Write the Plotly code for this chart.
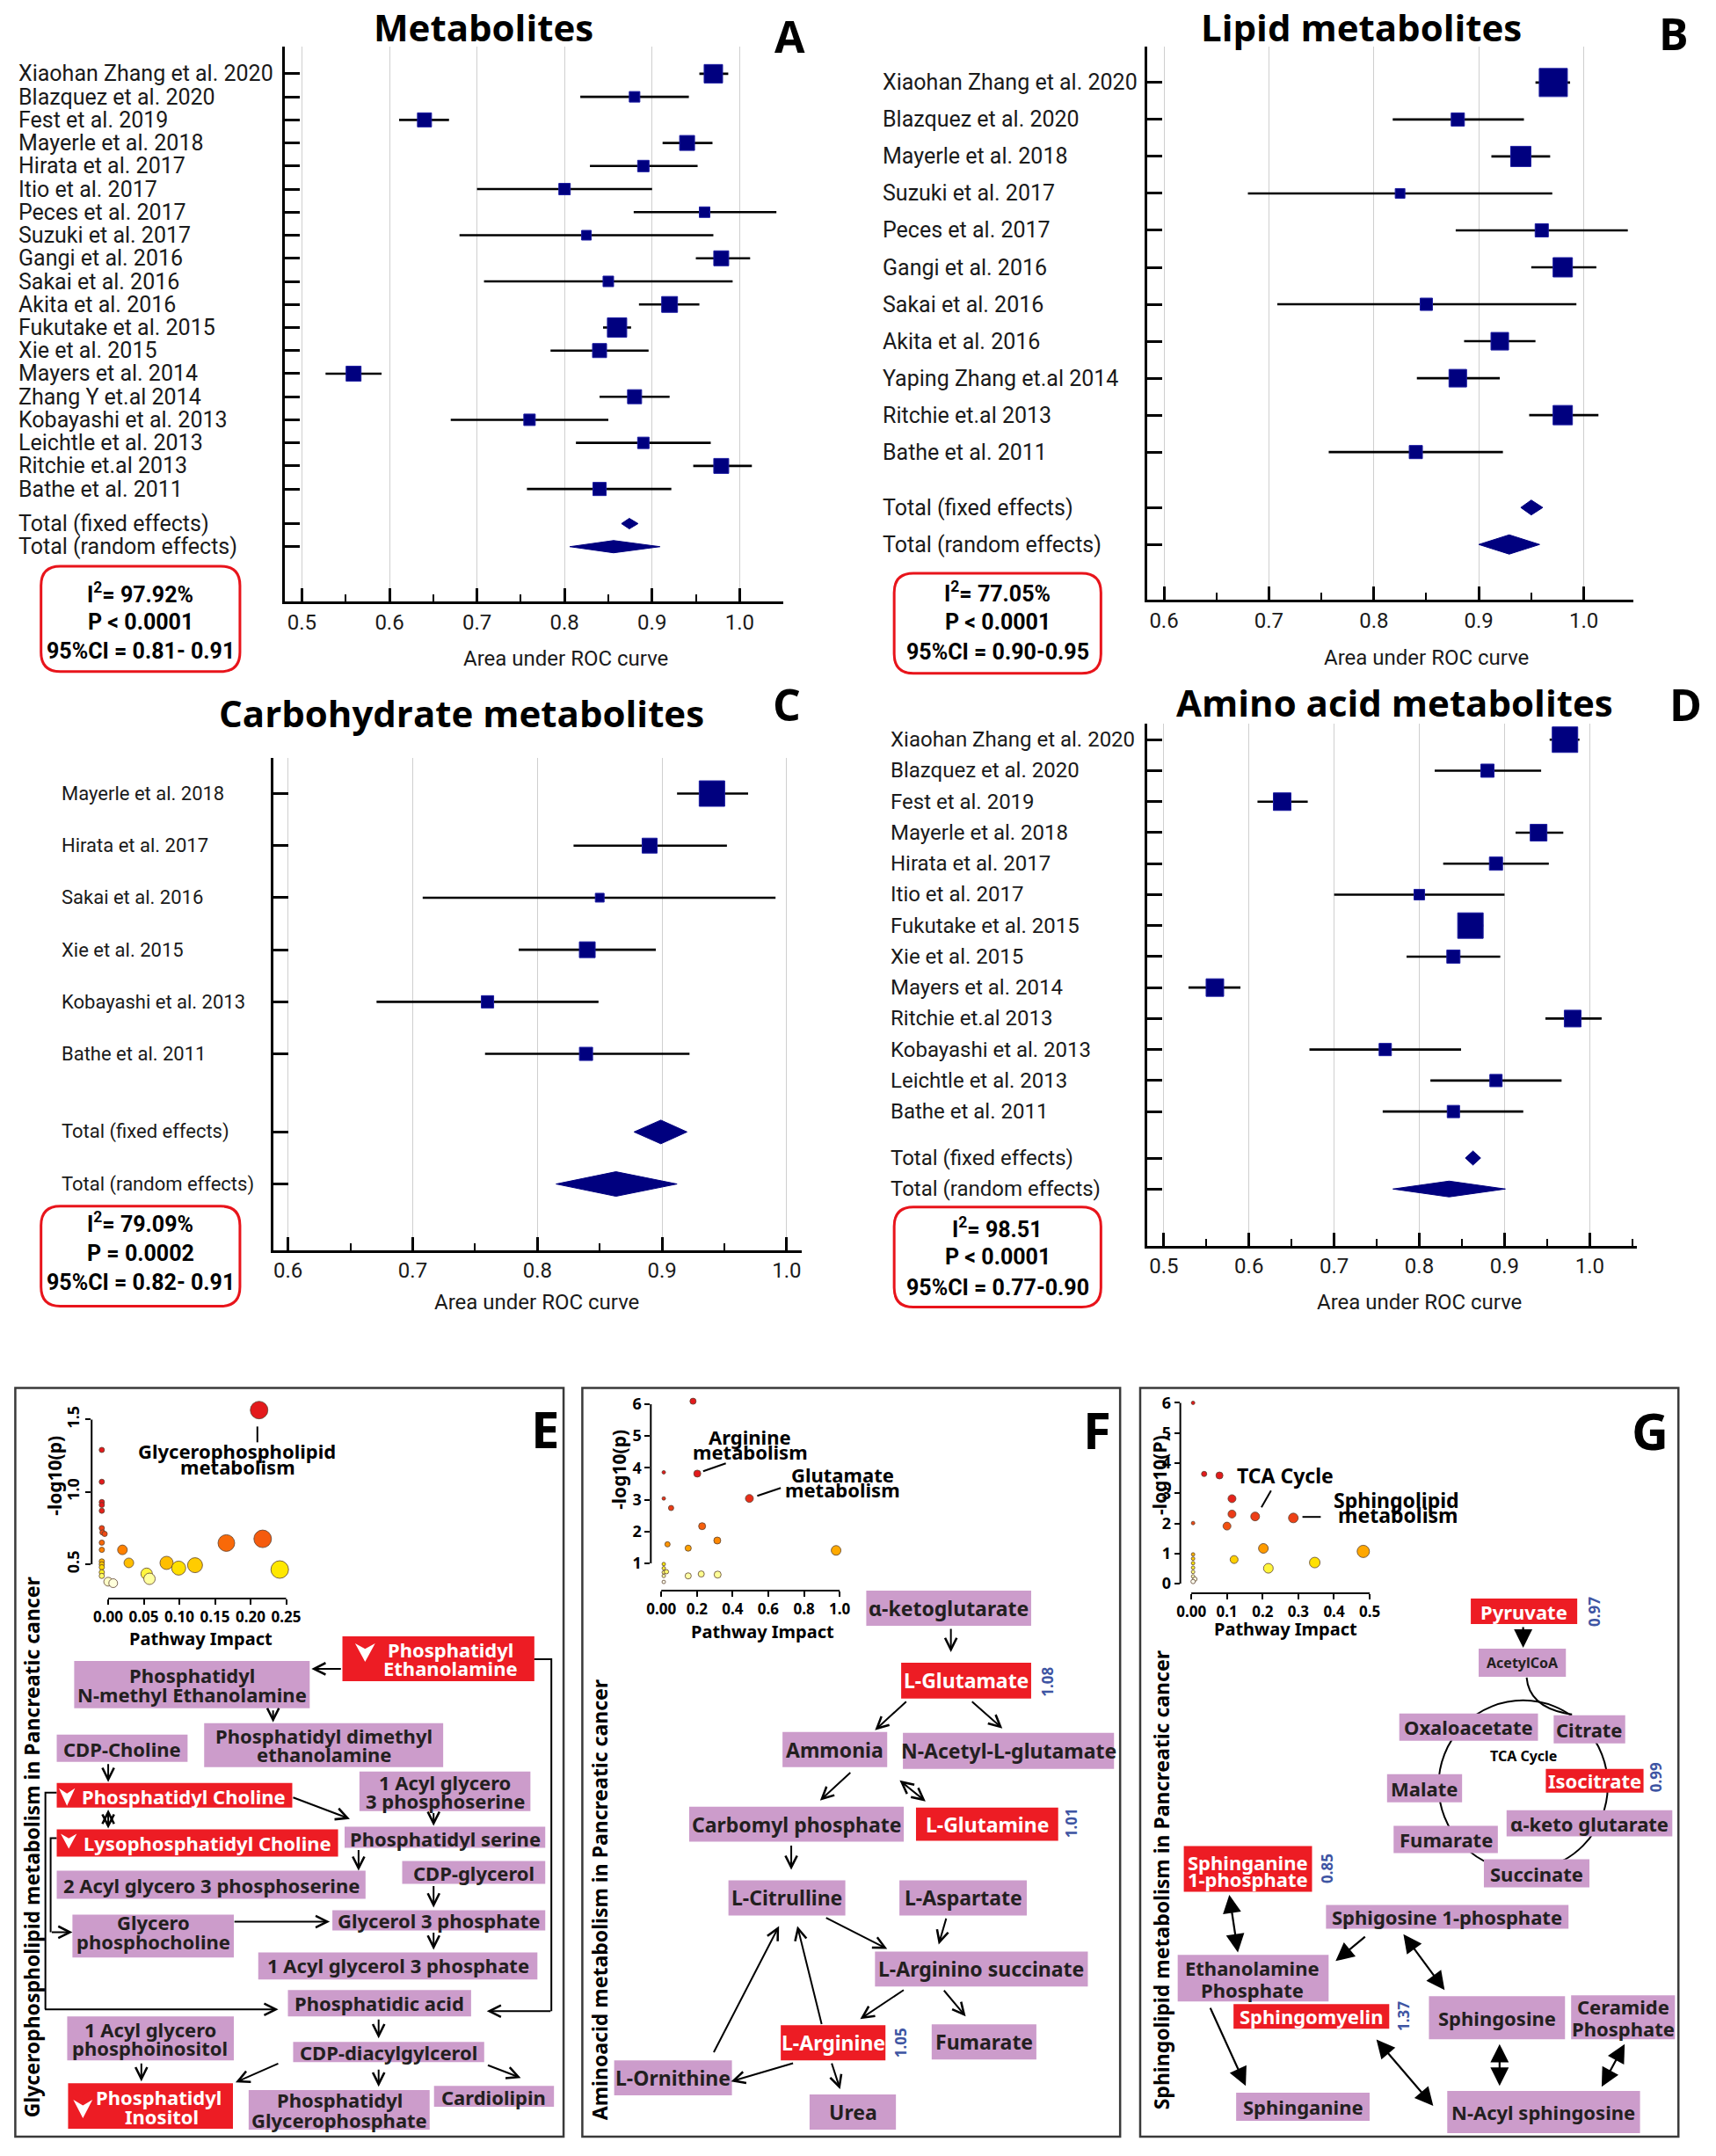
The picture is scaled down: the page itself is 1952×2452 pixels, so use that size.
import plotly.graph_objects as go

W, H = 1952, 2452


def fx(p):
    return p / W


def fy(p):
    return 1 - p / H


NARROW = "Roboto, Liberation Sans Narrow, sans-serif"
TITLEF = "Open Sans, Noto Sans, sans-serif"
DIAG = "Noto Sans, Open Sans, sans-serif"
NAVY = "#00007F"
PURPLE = "#CC9CCB"
RED = "#ED1C24"
DARK = "#231F20"
BLUE = "#3E55A3"

# ======================= DATA : forest plots =======================
A_TITLE = "Metabolites"
A_STUDIES = ["Xiaohan Zhang et al. 2020", "Blazquez et al. 2020", "Fest et al. 2019", "Mayerle et al. 2018",
             "Hirata et al. 2017", "Itio et al. 2017", "Peces et al. 2017", "Suzuki et al. 2017",
             "Gangi et al. 2016", "Sakai et al. 2016", "Akita et al. 2016", "Fukutake et al. 2015",
             "Xie et al. 2015", "Mayers et al. 2014", "Zhang Y et.al 2014", "Kobayashi et al. 2013",
             "Leichtle et al. 2013", "Ritchie et.al 2013", "Bathe et al. 2011"]
A_AUC = [0.970, 0.880, 0.640, 0.940, 0.890, 0.800, 0.960, 0.825, 0.979, 0.850, 0.920, 0.860, 0.840,
         0.559, 0.880, 0.760, 0.890, 0.979, 0.840]
A_LO = [0.954, 0.818, 0.611, 0.912, 0.829, 0.700, 0.879, 0.680, 0.950, 0.708, 0.885, 0.844, 0.784,
        0.527, 0.840, 0.670, 0.813, 0.947, 0.757]
A_HI = [0.987, 0.942, 0.668, 0.969, 0.952, 0.900, 1.042, 0.970, 1.012, 0.992, 0.954, 0.876, 0.896,
        0.591, 0.920, 0.850, 0.967, 1.014, 0.922]
A_WEIGHT = [21, 12, 16, 17, 13, 13, 12, 11, 17, 12, 18, 22, 16, 17, 16, 13, 13, 17, 15]
A_FIXED = [0.874, 0.865, 0.884]
A_RANDOM = [0.856, 0.806, 0.909]
A_STATS = ["I<sup>2</sup>= 97.92%", "P < 0.0001", "95%CI = 0.81- 0.91"]

B_TITLE = "Lipid metabolites"
B_STUDIES = ["Xiaohan Zhang et al. 2020", "Blazquez et al. 2020", "Mayerle et al. 2018", "Suzuki et al. 2017",
             "Peces et al. 2017", "Gangi et al. 2016", "Sakai et al. 2016", "Akita et al. 2016",
             "Yaping Zhang et.al 2014", "Ritchie et.al 2013", "Bathe et al. 2011"]
B_AUC = [0.971, 0.880, 0.940, 0.825, 0.960, 0.980, 0.850, 0.920, 0.880, 0.980, 0.840]
B_LO = [0.954, 0.818, 0.912, 0.680, 0.878, 0.950, 0.708, 0.886, 0.841, 0.948, 0.757]
B_HI = [0.987, 0.943, 0.968, 0.970, 1.042, 1.012, 0.993, 0.954, 0.920, 1.014, 0.923]
B_WEIGHT = [32, 15, 23, 11, 15, 22, 14, 20, 20, 22, 15]
B_FIXED = [0.950, 0.940, 0.961]
B_RANDOM = [0.929, 0.900, 0.958]
B_STATS = ["I<sup>2</sup>= 77.05%", "P < 0.0001", "95%CI = 0.90-0.95"]

C_TITLE = "Carbohydrate metabolites"
C_STUDIES = ["Mayerle et al. 2018", "Hirata et al. 2017", "Sakai et al. 2016", "Xie et al. 2015",
             "Kobayashi et al. 2013", "Bathe et al. 2011"]
C_AUC = [0.940, 0.890, 0.850, 0.840, 0.760, 0.839]
C_LO = [0.912, 0.829, 0.708, 0.785, 0.671, 0.758]
C_HI = [0.969, 0.952, 0.991, 0.895, 0.849, 0.922]
C_WEIGHT = [29, 17, 10, 18, 14, 15]
C_FIXED = [0.899, 0.8775, 0.920]
C_RANDOM = [0.863, 0.815, 0.912]
C_STATS = ["I<sup>2</sup>= 79.09%", "P = 0.0002", "95%CI = 0.82- 0.91"]

D_TITLE = "Amino acid metabolites"
D_STUDIES = ["Xiaohan Zhang et al. 2020", "Blazquez et al. 2020", "Fest et al. 2019", "Mayerle et al. 2018",
             "Hirata et al. 2017", "Itio et al. 2017", "Fukutake et al. 2015", "Xie et al. 2015",
             "Mayers et al. 2014", "Ritchie et.al 2013", "Kobayashi et al. 2013", "Leichtle et al. 2013",
             "Bathe et al. 2011"]
D_AUC = [0.971, 0.880, 0.639, 0.940, 0.890, 0.800, 0.860, 0.840, 0.560, 0.980, 0.760, 0.890, 0.840]
D_LO = [0.953, 0.818, 0.610, 0.913, 0.828, 0.700, 0.846, 0.785, 0.529, 0.948, 0.671, 0.813, 0.757]
D_HI = [0.988, 0.943, 0.669, 0.969, 0.952, 0.900, 0.875, 0.895, 0.590, 1.014, 0.849, 0.967, 0.922]
D_WEIGHT = [29, 15, 20, 19, 15, 12, 29, 15, 20, 19, 14, 14, 14]
D_FIXED = [0.863, 0.854, 0.872]
D_RANDOM = [0.835, 0.769, 0.901]
D_STATS = ["I<sup>2</sup>= 98.51", "P < 0.0001", "95%CI = 0.77-0.90"]

TOTAL_LABELS = ["Total (fixed effects)", "Total (random effects)"]
X_TITLE = "Area under ROC curve"

# ======================= DATA : pathway impact insets =======================
E_IMPACT = [0.212, -0.009, -0.009, -0.009, -0.009, -0.009, -0.009, -0.008, -0.005, -0.009, -0.009,
            -0.009, -0.009, -0.009, -0.009, -0.009, 0.000, 0.007, 0.020, 0.029, 0.054, 0.058, 0.082,
            0.099, 0.122, 0.166, 0.217, 0.241]
E_LOGP = [1.565, 1.29, 1.07, 0.93, 0.91, 0.87, 0.75, 0.72, 0.71, 0.65, 0.60, 0.52, 0.50, 0.48, 0.445,
          0.42, 0.38, 0.37, 0.60, 0.51, 0.435, 0.40, 0.51, 0.474, 0.494, 0.647, 0.676, 0.464]
E_SIZE = [20, 6, 6, 6, 6, 6, 6, 6, 6, 6, 6, 6, 6, 6, 6, 6, 10, 10, 11, 11, 13, 13, 15, 16, 17, 19, 20, 20]

F_IMPACT = [0.178, 0.014, 0.202, 0.014, 0.055, 0.494, 0.229, 0.035, 0.314, 0.151, 0.980, 0.014, 0.014,
            0.014, 0.029, 0.014, 0.014, 0.151, 0.224, 0.316]
F_LOGP = [6.09, 3.86, 3.82, 3.04, 2.74, 3.04, 2.17, 1.60, 1.72, 1.48, 1.41, 0.98, 0.85, 0.72, 0.74, 0.61,
          0.42, 0.61, 0.67, 0.65]
F_SIZE = [7, 4, 8, 4, 6, 9, 8, 6, 8, 7, 11, 4, 4, 4, 5, 4, 4, 7, 7, 8]

G_IMPACT = [0.005, 0.036, 0.079, 0.114, 0.114, 0.179, 0.286, 0.005, 0.100, 0.202, 0.482, 0.120, 0.216,
            0.346, 0.005, 0.005, 0.005, 0.005, 0.005, 0.005, 0.010, 0.005]
G_LOGP = [6.0, 3.64, 3.59, 2.82, 2.31, 2.23, 2.18, 2.01, 1.91, 1.17, 1.07, 0.80, 0.51, 0.70, 0.97, 0.83,
          0.68, 0.53, 0.39, 0.24, 0.15, 0.07]
G_SIZE = [4, 6, 8, 9, 9, 10, 11, 4, 9, 11, 14, 9, 11, 12, 4, 4, 4, 4, 4, 4, 5, 5]

E_XTICKS = [0.0, 0.05, 0.10, 0.15, 0.20, 0.25]
E_XTICKTEXT = ["0.00", "0.05", "0.10", "0.15", "0.20", "0.25"]
E_YTICKS = [0.5, 1.0, 1.5]
E_YTICKTEXT = ["0.5", "1.0", "1.5"]
F_XTICKS = [0.0, 0.2, 0.4, 0.6, 0.8, 1.0]
F_XTICKTEXT = ["0.00", "0.2", "0.4", "0.6", "0.8", "1.0"]
F_YTICKS = [1, 2, 3, 4, 5, 6]
F_YTICKTEXT = ["1", "2", "3", "4", "5", "6"]
G_XTICKS = [0.0, 0.1, 0.2, 0.3, 0.4, 0.5]
G_XTICKTEXT = ["0.00", "0.1", "0.2", "0.3", "0.4", "0.5"]
G_YTICKS = [0, 1, 2, 3, 4, 5, 6]
G_YTICKTEXT = ["0", "1", "2", "3", "4", "5", "6"]

E_YTITLE, F_YTITLE, G_YTITLE = "-log10(p)", "-log10(p)", "-log10(P)"
INSET_XTITLE = "Pathway Impact"
E_PATHWAYS = [["Glycerophospholipid", "metabolism"]]
F_PATHWAYS = [["Arginine", "metabolism"], ["Glutamate", "metabolism"]]
G_PATHWAYS = [["TCA Cycle"], ["Sphingolipid", "metabolism"]]

# ======================= DATA : pathway diagrams =======================
E_SIDE = "Glycerophospholipid metabolism in Pancreatic cancer"
F_SIDE = "Aminoacid metabolism in Pancreatic cancer"
G_SIDE = "Sphingolipid metabolism in Pancreatic cancer"

E_LABELS = {
    'PE': ['Phosphatidyl', 'Ethanolamine'], 'NME': ['Phosphatidyl', 'N-methyl Ethanolamine'],
    'PDE': ['Phosphatidyl dimethyl', 'ethanolamine'], 'CDPC': ['CDP-Choline'],
    'PC': ['Phosphatidyl Choline'], 'LPC': ['Lysophosphatidyl Choline'],
    'AGPS1': ['1 Acyl glycero', '3 phosphoserine'], 'PS': ['Phosphatidyl serine'],
    'AGPS2': ['2 Acyl glycero 3 phosphoserine'], 'CDPG': ['CDP-glycerol'],
    'GPC': ['Glycero', 'phosphocholine'], 'G3P': ['Glycerol 3 phosphate'],
    'AG3P': ['1 Acyl glycerol 3 phosphate'], 'PA': ['Phosphatidic acid'],
    'CDPDAG': ['CDP-diacylgylcerol'], 'AGPI': ['1 Acyl glycero', 'phosphoinositol'],
    'PI': ['Phosphatidyl', 'Inositol'], 'PGP': ['Phosphatidyl', 'Glycerophosphate'], 'CL': ['Cardiolipin'],
}
E_DECREASED = ['PE', 'PC', 'LPC', 'PI']

F_LABELS = {
    'AKG': ['α-ketoglutarate'], 'GLU': ['L-Glutamate'], 'AMM': ['Ammonia'], 'NAG': ['N-Acetyl-L-glutamate'],
    'CP': ['Carbomyl phosphate'], 'GLN': ['L-Glutamine'], 'CIT': ['L-Citrulline'], 'ASP': ['L-Aspartate'],
    'ASA': ['L-Arginino succinate'], 'ARG': ['L-Arginine'], 'FUM': ['Fumarate'], 'ORN': ['L-Ornithine'],
    'UREA': ['Urea'],
}
F_CHANGED = {'GLU': '1.08', 'GLN': '1.01', 'ARG': '1.05'}

G_LABELS = {
    'PYR': ['Pyruvate'], 'ACOA': ['AcetylCoA'], 'OAA': ['Oxaloacetate'], 'CIT': ['Citrate'],
    'ICIT': ['Isocitrate'], 'MAL': ['Malate'], 'AKG': ['α-keto glutarate'], 'FUM': ['Fumarate'],
    'SUC': ['Succinate'], 'SA1P': ['Sphinganine', '1-phosphate'], 'S1P': ['Sphigosine 1-phosphate'],
    'ETNP': ['Ethanolamine', 'Phosphate'], 'SM': ['Sphingomyelin'], 'SPH': ['Sphingosine'],
    'CERP': ['Ceramide', 'Phosphate'], 'SA': ['Sphinganine'], 'NAS': ['N-Acyl sphingosine'],
}
G_CHANGED = {'PYR': '0.97', 'ICIT': '0.99', 'SA1P': '0.85', 'SM': '1.37'}
G_CYCLE_LABEL = "TCA Cycle"

# ======================= LAYOUT (positions in page pixels) =======================
FOREST_LAYOUT = {
    'A': dict(n=1, dom_x=(321, 893), dom_y=(49, 681), row0=80, step=26.28, xr=(0.48, 1.05),
              label_x=14, label_size=25, title_xy=(549, 27), letter_xy=(900, 37),
              axtitle_xy=(643, 746), box=(42, 641, 270, 761), box_lines=(672, 705, 738),
              fixed_h=6, random_h=7),
    'B': dict(n=2, dom_x=(1310, 1867), dom_y=(49, 679), row0=90, step=42.1, xr=(0.584, 1.047),
              label_x=1005, label_size=25, title_xy=(1555, 27), letter_xy=(1914, 34),
              axtitle_xy=(1630, 745), box=(1020, 649, 1257, 763), box_lines=(671, 705, 739),
              fixed_h=8.5, random_h=11),
    'C': dict(n=3, dom_x=(308, 914), dom_y=(859, 1420), row0=900, step=59.3, xr=(0.588, 1.012),
              label_x=63, label_size=22, title_xy=(524, 808), letter_xy=(897, 798),
              axtitle_xy=(610, 1479), box=(42, 1370, 270, 1484), box_lines=(1389, 1424, 1457),
              fixed_h=13.5, random_h=14),
    'D': dict(n=4, dom_x=(1310, 1871), dom_y=(820, 1415), row0=838.6, step=35.3, xr=(0.4805, 1.055),
              label_x=1014, label_size=24, title_xy=(1594, 796), letter_xy=(1927, 798),
              axtitle_xy=(1622, 1479), box=(1020, 1371, 1257, 1485), box_lines=(1395, 1428, 1463),
              fixed_h=8, random_h=9),
}
FOREST_DATA = {
    'A': (A_TITLE, A_STUDIES, A_AUC, A_LO, A_HI, A_WEIGHT, A_FIXED, A_RANDOM, A_STATS),
    'B': (B_TITLE, B_STUDIES, B_AUC, B_LO, B_HI, B_WEIGHT, B_FIXED, B_RANDOM, B_STATS),
    'C': (C_TITLE, C_STUDIES, C_AUC, C_LO, C_HI, C_WEIGHT, C_FIXED, C_RANDOM, C_STATS),
    'D': (D_TITLE, D_STUDIES, D_AUC, D_LO, D_HI, D_WEIGHT, D_FIXED, D_RANDOM, D_STATS),
}

INSET_LAYOUT = {
    'E': dict(n=5, dom_x=(100, 330), dom_y=(1598, 1817), xr=(-0.0233, 0.2586), yr=(0.2636, 1.591),
              xline=(0.0, 0.25), yline=(0.5, 1.5), ytickangle=-90, cmin=0.36, cmax=0.9,
              xtitle_xy=(225, 1863), ytitle_xy=(58, 1677), letter_xy=(620, 1623),
              path_text=[[(267, 1649), (268, 1667)]], ann_size=22,
              leaders=[((290, 1621), (290, 1639))]),
    'F': dict(n=6, dom_x=(741, 965), dom_y=(1585, 1808), xr=(-0.0587, 1.0367), yr=(0.146, 6.289),
              xline=(0.0, 1.0), yline=(1, 6), ytickangle=0, cmin=0.4, cmax=3.5,
              xtitle_xy=(869, 1855), ytitle_xy=(705, 1670), letter_xy=(1253, 1624),
              path_text=[[(855, 1633), (855, 1650)], [(961, 1676), (961, 1693)]], ann_size=22,
              leaders=[((801, 1672), (827, 1663)), ((863, 1700), (890, 1691))]),
    'G': dict(n=7, dom_x=(1348, 1575), dom_y=(1585, 1811), xr=(-0.0308, 0.5242), yr=(-0.32, 6.263),
              xline=(0.0, 0.5), yline=(0, 6), ytickangle=0, cmin=0.1, cmax=3.0,
              xtitle_xy=(1469, 1852), ytitle_xy=(1324, 1676), letter_xy=(1886, 1625),
              path_text=[[(1468, 1677)], [(1596, 1705), (1598, 1722)]], ann_size=23,
              leaders=[((1452, 1694), (1441, 1713)), ((1488, 1724), (1509, 1724))]),
}
INSET_DATA = {
    'E': (E_IMPACT, E_LOGP, E_SIZE, E_XTICKS, E_XTICKTEXT, E_YTICKS, E_YTICKTEXT, E_YTITLE, E_PATHWAYS),
    'F': (F_IMPACT, F_LOGP, F_SIZE, F_XTICKS, F_XTICKTEXT, F_YTICKS, F_YTICKTEXT, F_YTITLE, F_PATHWAYS),
    'G': (G_IMPACT, G_LOGP, G_SIZE, G_XTICKS, G_XTICKTEXT, G_YTICKS, G_YTICKTEXT, G_YTITLE, G_PATHWAYS),
}
HEAT = [[0, '#FFFFF0'], [0.08, '#FFFF99'], [0.18, '#FFEE00'], [0.3, '#FFB300'], [0.45, '#FF7F00'],
        [0.65, '#F04A14'], [1, '#E31A1C']]

PANEL_FRAMES = [(12.5, 1577, 641, 2430), (662.5, 1577, 1279, 2430), (1302, 1577, 1919, 2430)]
SIDE_XY = {'E': (31, 2100), 'F': (683, 2160), 'G': (1326, 2138)}

E_BOX = {
    'PE': (387.5, 1860, 607.5, 1911), 'NME': (80, 1888, 350, 1942), 'PDE': (229, 1959, 503, 2009),
    'CDPC': (60, 1972, 210, 2003), 'PC': (60, 2027, 330, 2055), 'LPC': (60, 2080, 382.5, 2111),
    'AGPS1': (407, 2014, 603, 2059), 'PS': (390, 2077, 620, 2101), 'AGPS2': (60, 2127, 414, 2159),
    'CDPG': (456, 2116, 620, 2142), 'GPC': (78, 2177, 263, 2226), 'G3P': (376, 2172, 620, 2195),
    'AG3P': (291, 2220, 611, 2251), 'PA': (325, 2263, 535, 2293), 'CDPDAG': (331, 2322, 550, 2345),
    'AGPI': (72, 2293, 263, 2343), 'PI': (73, 2369, 262, 2421), 'PGP': (280, 2377, 487.5, 2422),
    'CL': (492.5, 2372, 630, 2396),
}
E_TEXT_XY = {
    'PE': [(511, 1875), (511, 1896)], 'NME': [(215, 1904), (215, 1926)], 'PDE': [(366, 1973), (366, 1994)],
    'CDPC': [(135, 1988)], 'PC': [(206, 2042)], 'LPC': [(233, 2095)], 'AGPS1': [(505, 2026), (505, 2047)],
    'PS': [(505, 2090)], 'AGPS2': [(237, 2143)], 'CDPG': [(538, 2129)], 'GPC': [(171, 2186), (171, 2208)],
    'G3P': [(498, 2184)], 'AG3P': [(451, 2235)], 'PA': [(430, 2278)], 'CDPDAG': [(440, 2334)],
    'AGPI': [(167, 2308), (167, 2329)], 'PI': [(177, 2385), (180, 2407)], 'PGP': [(384, 2388), (384, 2411)],
    'CL': [(561, 2385)],
}
E_TRIANGLE = {'PE': (402, 1868, 425, 1889), 'PC': (62.5, 2033, 81, 2053), 'LPC': (64.6, 2085, 83, 2102),
              'PI': (79, 2388, 101, 2409)}
E_ARROWS = [  # head, tail, double
    ((352, 1897), (387, 1897), False), ((308, 1958), (308, 1943), False), ((119, 2026), (119, 2004), False),
    ((119, 2079), (119, 2056), True), ((396, 2068), (330, 2043), False), ((492, 2076), (492, 2060), False),
    ((406, 2127), (406, 2102), False), ((492, 2169), (492, 2143), False), ((78, 2197), (53, 2197), False),
    ((373, 2185), (263, 2185), False), ((492, 2217), (492, 2196), False), ((314, 2285), (47, 2285), False),
    ((553, 2287), (627, 2287), False), ((429, 2318), (429, 2295), False), ((157, 2367), (157, 2345), False),
    ((265, 2368), (315, 2346), False), ((429, 2373), (429, 2352), False), ((592, 2363), (553, 2348), False),
]
E_POLYLINES = [[(60, 2090), (53, 2090), (53, 2197)], [(60, 2038), (47, 2038), (47, 2285)],
               [(607, 1886), (627, 1886), (627, 2287)]]

F_BOX = {
    'AKG': (988, 1808, 1177, 1848), 'GLU': (1028, 1890, 1177, 1931), 'AMM': (892, 1969, 1012, 2009),
    'NAG': (1030, 1970, 1272, 2011), 'CP': (785, 2054, 1031, 2094), 'GLN': (1045, 2055, 1208, 2093),
    'CIT': (830, 2138, 964, 2178), 'ASP': (1026, 2138, 1172, 2178), 'ASA': (998, 2219, 1242, 2259),
    'ARG': (890, 2303, 1010, 2343), 'FUM': (1063, 2302, 1183, 2342), 'ORN': (699, 2343, 834, 2383),
    'UREA': (923, 2382, 1022, 2422),
}
F_FOLD_XY = {'GLU': (1196, 1912), 'GLN': (1223, 2073), 'ARG': (1027, 2323)}
F_ARROWS = [
    ((1085, 1878), (1085, 1850), False), ((998, 1967), (1035, 1933), False), ((1144, 1965), (1108, 1933), False),
    ((935, 2047), (971, 2014), False), ((1056, 2048), (1025, 2023), True), ((902, 2126), (902, 2097), False),
    ((1012, 2216), (941, 2180), False), ((1071, 2211), (1080, 2180), False), ((981, 2296), (1032, 2262), False),
    ((1102, 2293), (1076, 2262), False), ((909, 2190), (937, 2303), False), ((888, 2190), (813, 2335), False),
    ((833, 2367), (905, 2346), False), ((958, 2376), (948, 2345), False),
]

G_BOX = {
    'PYR': (1681, 1817, 1803, 1846), 'ACOA': (1690, 1874, 1790, 1906), 'OAA': (1599, 1948, 1758, 1979),
    'CIT': (1776, 1950, 1858, 1982), 'ICIT': (1767, 2011, 1879, 2038), 'MAL': (1585, 2017, 1671, 2049),
    'AKG': (1722, 2058, 1912, 2088), 'FUM': (1592.5, 2076, 1712, 2107), 'SUC': (1696, 2114, 1817, 2146),
    'SA1P': (1352, 2099, 1499, 2151), 'S1P': (1515, 2166, 1793, 2193), 'ETNP': (1345, 2223, 1518, 2276),
    'SM': (1409, 2279, 1587.5, 2307), 'SPH': (1633, 2270, 1789, 2319), 'CERP': (1796, 2269, 1915, 2319),
    'SA': (1412, 2380, 1565, 2412), 'NAS': (1654, 2378, 1875, 2426),
}
G_TEXT_XY = {'SA1P': [(1425, 2117), (1425, 2136)], 'ETNP': [(1430, 2238), (1430, 2263)],
             'CERP': [(1856, 2282), (1856, 2307)]}
G_FOLD_XY = {'PYR': (1822, 1832), 'ICIT': (1893, 2020), 'SA1P': (1516, 2124), 'SM': (1604, 2293)}
G_SMALL = {'ACOA': 16}
G_RING = dict(cx=1741, cy=2030, r=97, label_xy=(1741, 1996))
G_ARROWS = [
    ((1741, 1873), (1741, 1848), False), ((1414, 2220), (1404, 2153), True), ((1526, 2230), (1561, 2201), False),
    ((1651, 2263), (1603, 2198), True), ((1423, 2372), (1382, 2282), False), ((1638, 2395), (1572, 2318), True),
    ((1714, 2372), (1714, 2323), True), ((1831, 2373), (1858, 2323), True),
]

# ======================= BUILD =======================
fig = go.Figure()
annotations = []
shapes = []
layout_axes = {}


def text_ann(x, y, text, size, color='black', family=DIAG, bold=True, angle=0, xanchor='center'):
    annotations.append(dict(
        x=fx(x), y=fy(y), xref='paper', yref='paper',
        text=('<b>%s</b>' % text) if bold else text, showarrow=False, xanchor=xanchor, yanchor='middle',
        textangle=angle, font=dict(family=family, size=size, color=color)))


def rrect_path(x0, y0, x1, y1, r):
    def P(x, y):
        return "%.6f %.6f" % (fx(x), fy(y))
    return ("M %s L %s Q %s %s L %s Q %s %s L %s Q %s %s L %s Q %s %s Z" % (
        P(x0 + r, y0), P(x1 - r, y0), P(x1, y0), P(x1, y0 + r), P(x1, y1 - r), P(x1, y1), P(x1 - r, y1),
        P(x0 + r, y1), P(x0, y1), P(x0, y1 - r), P(x0, y0 + r), P(x0, y0), P(x0 + r, y0)))


def poly_path(pts):
    return "M " + " L ".join("%.6f %.6f" % (fx(x), fy(y)) for x, y in pts)


def arrow(head, tail, double, style):
    hx, hy = head
    tx, ty = tail
    a = dict(x=fx(hx), y=fy(hy), xref='paper', yref='paper', ax=tx - hx, ay=ty - hy,
             axref='pixel', ayref='pixel', text='', showarrow=True, arrowcolor='black',
             standoff=0, startstandoff=0)
    if style == 'open':
        a.update(arrowhead=5, arrowsize=1.3, arrowwidth=2)
        if double:
            a.update(arrowside='end+start', startarrowhead=5, startarrowsize=1.3)
    else:
        a.update(arrowhead=2, arrowsize=1.9, arrowwidth=2.2)
        if double:
            a.update(arrowside='end+start', startarrowhead=2, startarrowsize=1.9)
    annotations.append(a)


# ---------- forest plots ----------
for key in 'ABCD':
    L = FOREST_LAYOUT[key]
    title, studies, auc, lo, hi, weight, fixed, random_, stats = FOREST_DATA[key]
    n = L['n']
    xa = 'x' if n == 1 else 'x%d' % n
    ya = 'y' if n == 1 else 'y%d' % n
    nst = len(studies)
    rows = list(range(nst))
    r_fix = nst - 1 + 1.5
    r_ran = nst - 1 + 2.5
    top = (L['dom_y'][0] - L['row0']) / L['step']
    bottom = (L['dom_y'][1] - L['row0']) / L['step']

    fig.add_trace(go.Scatter(
        x=auc, y=rows, xaxis=xa, yaxis=ya, mode='markers', hoverinfo='skip', cliponaxis=False,
        marker=dict(symbol='square', size=weight, color=NAVY, opacity=1,
                    line=dict(color='#1C1CA0', width=1)),
        error_x=dict(type='data', symmetric=False, array=[h - e for h, e in zip(hi, auc)],
                     arrayminus=[e - l for e, l in zip(auc, lo)], width=0, thickness=2.6, color='black')))
    for (est, l, h), r, hpx in [(fixed, r_fix, L['fixed_h']), (random_, r_ran, L['random_h'])]:
        dh = hpx / L['step']
        fig.add_trace(go.Scatter(
            x=[l, est, h, est, l], y=[r, r - dh, r, r + dh, r], xaxis=xa, yaxis=ya, mode='lines',
            fill='toself', fillcolor=NAVY, line=dict(color=NAVY, width=1), hoverinfo='skip'))

    layout_axes['xaxis' if n == 1 else 'xaxis%d' % n] = dict(
        domain=[fx(L['dom_x'][0]), fx(L['dom_x'][1])], range=list(L['xr']), anchor=ya,
        showline=True, linewidth=3, linecolor='black', ticks='inside', ticklen=15, tickwidth=2.5,
        tickcolor='black', tick0=0.5, dtick=0.1, tickformat='.1f',
        tickfont=dict(family=NARROW, size=24, color='#1a1a1a'),
        showgrid=True, gridcolor='#cfcfcf', gridwidth=1, zeroline=False,
        minor=dict(ticks='inside', ticklen=8, tickwidth=2, tickcolor='black', dtick=0.05, tick0=0.5,
                   showgrid=False))
    layout_axes['yaxis' if n == 1 else 'yaxis%d' % n] = dict(
        domain=[fy(L['dom_y'][1]), fy(L['dom_y'][0])], range=[bottom, top], anchor=xa,
        showline=True, linewidth=3, linecolor='black', ticks='inside', ticklen=17, tickwidth=2.5,
        tickcolor='black', tickvals=rows + [r_fix, r_ran], showticklabels=False, showgrid=False,
        zeroline=False)

    for r, s in zip(rows + [r_fix, r_ran], studies + TOTAL_LABELS):
        annotations.append(dict(x=fx(L['label_x']), y=r, xref='paper', yref=ya, text=s, showarrow=False,
                                xanchor='left', yanchor='middle',
                                font=dict(family=NARROW, size=L['label_size'], color='#1a1a1a')))
    text_ann(L['title_xy'][0], L['title_xy'][1], title, 42, family=TITLEF)
    text_ann(L['letter_xy'][0], L['letter_xy'][1], key, 50, family=TITLEF)
    text_ann(L['axtitle_xy'][0], L['axtitle_xy'][1], X_TITLE, 24, color='#1a1a1a', family=NARROW, bold=False)
    bx0, by0, bx1, by1 = L['box']
    shapes.append(dict(type='path', path=rrect_path(bx0, by0, bx1, by1, 22), xref='paper', yref='paper',
                       line=dict(color='#E8141B', width=3), fillcolor='white'))
    for s, yy in zip(stats, L['box_lines']):
        text_ann((bx0 + bx1) / 2, yy, s, 25, family=NARROW)

# ---------- insets ----------
for key in 'EFG':
    L = INSET_LAYOUT[key]
    imp, lp, sz, xt, xtt, yt, ytt, ytitle, pathways = INSET_DATA[key]
    n = L['n']
    xa, ya = 'x%d' % n, 'y%d' % n
    fig.add_trace(go.Scatter(
        x=imp, y=lp, xaxis=xa, yaxis=ya, mode='markers', hoverinfo='skip', cliponaxis=False,
        marker=dict(size=sz, color=lp, colorscale=HEAT, cmin=L['cmin'], cmax=L['cmax'],
                    line=dict(color='#5a4030', width=0.8), opacity=1)))
    layout_axes['xaxis%d' % n] = dict(
        domain=[fx(L['dom_x'][0]), fx(L['dom_x'][1])], range=list(L['xr']), anchor=ya, showline=False,
        showgrid=False, zeroline=False, ticks='outside', ticklen=6, tickwidth=2, tickcolor='black',
        tickvals=xt, ticktext=['<b>%s</b>' % t for t in xtt],
        tickfont=dict(family=DIAG, size=17, color='black'))
    layout_axes['yaxis%d' % n] = dict(
        domain=[fy(L['dom_y'][1]), fy(L['dom_y'][0])], range=list(L['yr']), anchor=xa, showline=False,
        showgrid=False, zeroline=False, ticks='outside', ticklen=6, tickwidth=2, tickcolor='black',
        tickvals=yt, ticktext=['<b>%s</b>' % t for t in ytt], tickangle=L['ytickangle'],
        tickfont=dict(family=DIAG, size=18, color='black'))
    shapes.append(dict(type='line', xref=xa, yref='paper', x0=L['xline'][0], x1=L['xline'][1],
                       y0=fy(L['dom_y'][1]), y1=fy(L['dom_y'][1]), line=dict(color='black', width=2)))
    shapes.append(dict(type='line', xref='paper', yref=ya, x0=fx(L['dom_x'][0]), x1=fx(L['dom_x'][0]),
                       y0=L['yline'][0], y1=L['yline'][1], line=dict(color='black', width=2)))
    text_ann(L['xtitle_xy'][0], L['xtitle_xy'][1], INSET_XTITLE, 20)
    text_ann(L['ytitle_xy'][0], L['ytitle_xy'][1], ytitle, 21, angle=-90)
    text_ann(L['letter_xy'][0], L['letter_xy'][1], key, 58)
    for lines, xys in zip(pathways, L['path_text']):
        for s, (px, py) in zip(lines, xys):
            text_ann(px, py, s, L['ann_size'])
    for (p0, p1) in L['leaders']:
        shapes.append(dict(type='line', xref='paper', yref='paper', x0=fx(p0[0]), y0=fy(p0[1]),
                           x1=fx(p1[0]), y1=fy(p1[1]), line=dict(color='black', width=2)))

# ---------- diagram frames and side labels ----------
for (x0, y0, x1, y1) in PANEL_FRAMES:
    shapes.append(dict(type='rect', xref='paper', yref='paper', x0=fx(x0), y0=fy(y1), x1=fx(x1), y1=fy(y0),
                       line=dict(color='#3a3a3a', width=2.5), fillcolor='rgba(0,0,0,0)'))
for key, s in [('E', E_SIDE), ('F', F_SIDE), ('G', G_SIDE)]:
    text_ann(SIDE_XY[key][0], SIDE_XY[key][1], s, 23, angle=-90)

# G ring (behind boxes)
shapes.append(dict(type='circle', xref='paper', yref='paper',
                   x0=fx(G_RING['cx'] - G_RING['r']), x1=fx(G_RING['cx'] + G_RING['r']),
                   y0=fy(G_RING['cy'] + G_RING['r']), y1=fy(G_RING['cy'] - G_RING['r']),
                   line=dict(color='black', width=2)))
shapes.append(dict(type='path', xref='paper', yref='paper',
                   path="M %.6f %.6f Q %.6f %.6f %.6f %.6f" % (fx(1745), fy(1907), fx(1748), fy(1942),
                                                              fx(1797), fy(1949)),
                   line=dict(color='black', width=2)))

# E polylines
for pts in E_POLYLINES:
    shapes.append(dict(type='path', xref='paper', yref='paper', path=poly_path(pts),
                       line=dict(color='black', width=2)))


def draw_boxes(labels, boxes, text_xy, red_set, size, small=None):
    for k, lines in labels.items():
        x0, y0, x1, y1 = boxes[k]
        red = k in red_set
        shapes.append(dict(type='rect', xref='paper', yref='paper', x0=fx(x0), x1=fx(x1), y0=fy(y1), y1=fy(y0),
                           fillcolor=RED if red else PURPLE, line=dict(width=0)))
        fs = (small or {}).get(k, size)
        if k in text_xy:
            pos = text_xy[k]
        else:
            cy = (y0 + y1) / 2
            pos = [((x0 + x1) / 2, cy)] if len(lines) == 1 else \
                [((x0 + x1) / 2, cy - 11), ((x0 + x1) / 2, cy + 11)]
        for s, (px, py) in zip(lines, pos):
            text_ann(px, py, s, fs, color='white' if red else DARK)


draw_boxes(E_LABELS, E_BOX, E_TEXT_XY, E_DECREASED, 22)
for k, (x0, y0, x1, y1) in E_TRIANGLE.items():
    xm = (x0 + x1) / 2
    shapes.append(dict(type='path', xref='paper', yref='paper', fillcolor='white', line=dict(width=0),
                       path=poly_path([(x0, y0), (xm, y0 + (y1 - y0) * 0.3), (x1, y0), (xm, y1)]) + " Z"))
for h, t, d in E_ARROWS:
    arrow(h, t, d, 'open')

draw_boxes(F_LABELS, F_BOX, {}, F_CHANGED, 23)
for k, v in F_CHANGED.items():
    text_ann(F_FOLD_XY[k][0], F_FOLD_XY[k][1], v, 17, color=BLUE, angle=-90)
for h, t, d in F_ARROWS:
    arrow(h, t, d, 'open')

draw_boxes(G_LABELS, G_BOX, G_TEXT_XY, G_CHANGED, 22, small=G_SMALL)
text_ann(G_RING['label_xy'][0], G_RING['label_xy'][1], G_CYCLE_LABEL, 16)
for k, v in G_CHANGED.items():
    text_ann(G_FOLD_XY[k][0], G_FOLD_XY[k][1], v, 17, color=BLUE, angle=-90)
for h, t, d in G_ARROWS:
    arrow(h, t, d, 'filled')

fig.update_layout(
    width=W, height=H, margin=dict(l=0, r=0, t=0, b=0), paper_bgcolor='white',
    plot_bgcolor='rgba(0,0,0,0)', showlegend=False, annotations=annotations, shapes=shapes,
    **layout_axes)

fig.write_html("out.html", config={'displayModeBar': False},
               post_script="document.body.style.margin='0px';")
